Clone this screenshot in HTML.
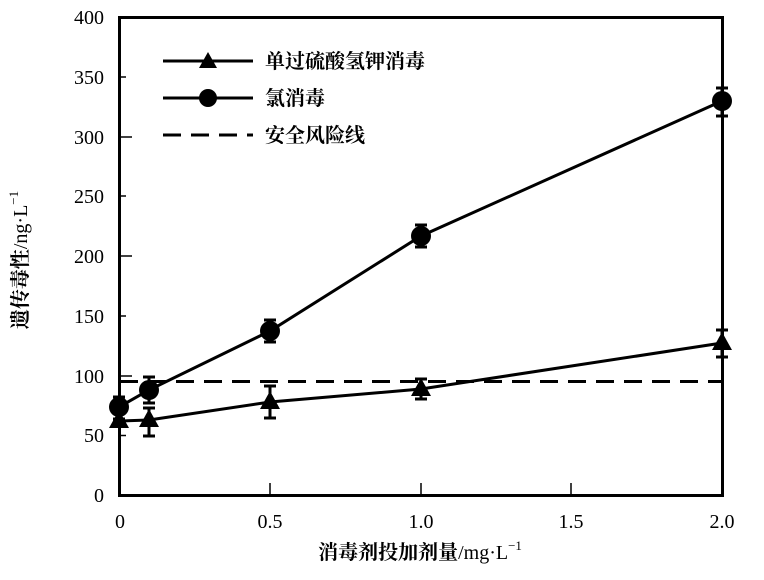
<!DOCTYPE html>
<html><head><meta charset="utf-8"><style>body{margin:0;background:#fff}</style></head><body>
<svg width="764" height="575" xmlns="http://www.w3.org/2000/svg" font-family="'Liberation Serif','Noto Serif CJK SC',serif" fill="#000">
<rect x="119.5" y="17.5" width="603" height="478" fill="none" stroke="#000" stroke-width="3"/>
<g stroke="#000" stroke-width="1.5">
<line x1="119" y1="376" x2="132" y2="376"/><line x1="119" y1="256" x2="132" y2="256"/><line x1="119" y1="137" x2="132" y2="137"/>
<line x1="119" y1="435.5" x2="126" y2="435.5"/><line x1="119" y1="316" x2="126" y2="316"/><line x1="119" y1="196" x2="126" y2="196"/><line x1="119" y1="77" x2="126" y2="77"/>
<line x1="270" y1="495" x2="270" y2="483"/><line x1="421" y1="495" x2="421" y2="483"/><line x1="571" y1="495" x2="571" y2="483"/>
</g>
<g font-size="20" text-anchor="end">
<text x="104" y="502">0</text><text x="104" y="442">50</text><text x="104" y="383">100</text><text x="104" y="323">150</text><text x="104" y="263">200</text><text x="104" y="203">250</text><text x="104" y="144">300</text><text x="104" y="84">350</text><text x="104" y="24">400</text>
</g>
<g font-size="20" text-anchor="middle">
<text x="120" y="528">0</text><text x="270" y="528">0.5</text><text x="421" y="528">1.0</text><text x="571" y="528">1.5</text><text x="722" y="528">2.0</text>
</g>
<text x="420" y="559" font-size="20" text-anchor="middle"><tspan font-weight="bold">消毒剂投加剂量</tspan>/mg·L<tspan font-size="13" dy="-9">−1</tspan></text>
<text transform="translate(27,260) rotate(-90)" font-size="20" text-anchor="middle"><tspan font-weight="bold">遗传毒性</tspan>/ng·L<tspan font-size="13" dy="-9">−1</tspan></text>
<line x1="120" y1="381.5" x2="722" y2="381.5" stroke="#000" stroke-width="3" stroke-dasharray="18,10"/>
<g stroke="#000" stroke-width="3" fill="none">
<polyline points="119,421 149,420 270,402 421,389 722,343"/>
<polyline points="119,407 149,390 270,331 421,236 722,101"/>
<path d="M119,397v22M113,397h12M113,419h12 M149,377v26M143,377h12M143,403h12 M149,408v28M143,408h12M143,436h12 M270,386v32M264,386h12M264,418h12 M270,320v22M264,320h12M264,342h12 M421,379v20M415,379h12M415,399h12 M421,225v22M415,225h12M415,247h12 M722,330v27M716,330h12M716,357h12 M722,88v28M716,88h12M716,116h12"/>
</g>
<g>
<polygon points="119,410 109,428 129,428"/><polygon points="149,409 139,427 159,427"/><polygon points="270,391 260,409 280,409"/><polygon points="421,378 411,396 431,396"/><polygon points="722,332 712,350 732,350"/>
<circle cx="119" cy="407" r="10"/><circle cx="149" cy="390" r="10"/><circle cx="270" cy="331" r="10"/><circle cx="421" cy="236" r="10"/><circle cx="722" cy="101" r="10"/>
</g>
<g stroke="#000" stroke-width="3">
<line x1="163" y1="61" x2="253" y2="61"/><line x1="163" y1="98" x2="253" y2="98"/><line x1="163" y1="135" x2="253" y2="135" stroke-dasharray="18,10"/>
</g>
<polygon points="208,52 199,68 217,68"/><circle cx="208" cy="98" r="9"/>
<g font-size="20" font-weight="bold">
<text x="265" y="68">单过硫酸氢钾消毒</text><text x="265" y="105">氯消毒</text><text x="265" y="142">安全风险线</text>
</g>
</svg>
</body></html>
